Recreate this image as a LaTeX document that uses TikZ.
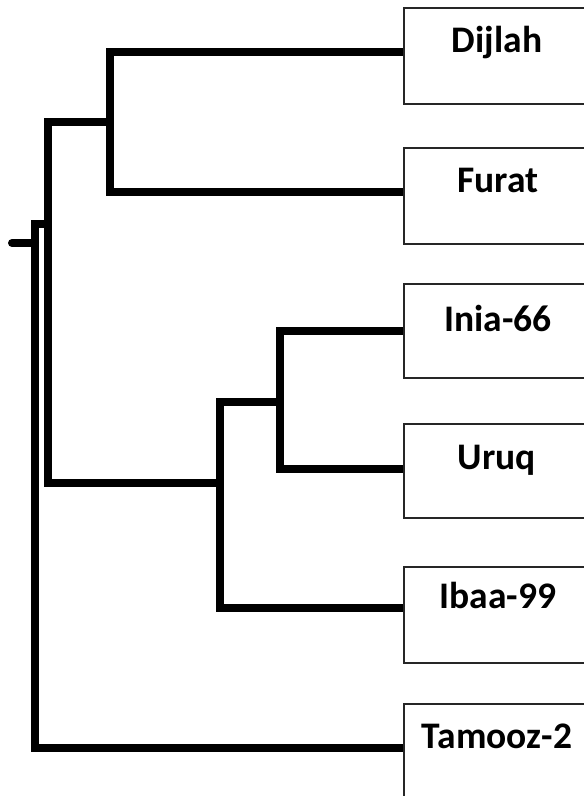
\documentclass[tikz,border=0pt]{standalone}
\usepackage{fontspec}
\setmainfont{Carlito}
\begin{document}
\begin{tikzpicture}[x=1pt,y=-1pt,
  branch/.style={line width=8pt, line join=miter, line cap=butt, black},
  leafbox/.style={draw=black!85, line width=1.8pt, minimum width=190pt, minimum height=96pt, inner sep=0pt, anchor=north west},
  leaflabel/.style={font=\fontsize{37.5}{42}\bfseries\selectfont, anchor=base, inner sep=0pt}]
\useasboundingbox (0,0) rectangle (584,796);
\clip (0,0) rectangle (584,796);
\fill[white] (0,0) rectangle (584,796);
% boxes
\node[leafbox] (b1) at (403,7) {};
\node[leafbox] (b2) at (403,147) {};
\node[leafbox, minimum height=94pt] (b3) at (403,283) {};
\node[leafbox, minimum height=94pt] (b4) at (403,423) {};
\node[leafbox] (b5) at (403,566) {};
\node[leafbox, minimum height=110pt] (b6) at (403,703) {};
% labels
\node[leaflabel] (t1) at (497,52) {Dijlah};
\node[leaflabel] (t2) at (498,192) {Furat};
\node[leaflabel] (t3) at (498,331) {Inia-66};
\node[leaflabel] (t4) at (497,469) {Uruq};
\node[leaflabel] (t5) at (498,608) {Ibaa-99};
\node[leaflabel] (t6) at (497,748) {Tamooz-2};
% tree coordinates
\coordinate (l1) at (403,52);
\coordinate (l2) at (403,192);
\coordinate (l3) at (403,331);
\coordinate (l4) at (403,469);
\coordinate (l5) at (403,608);
\coordinate (l6) at (403,748);
\coordinate (n1) at (110,122);
\coordinate (n2) at (280,402);
\coordinate (n3) at (220,483);
\coordinate (n4) at (48,224);
\coordinate (n5) at (35,243);
\coordinate (root) at (12,243);
% branches
\draw[branch] (b1.west |- l1) -| (n1) |- (b2.west |- l2);
\draw[branch] (n1) -- (48,122) |- (n3);
\draw[branch] (b3.west |- l3) -| (n2) |- (b4.west |- l4);
\draw[branch] (n2) -- (220,402) |- (b5.west |- l5);
\draw[branch] (n4) -- (35,224) |- (b6.west |- l6);
\draw[branch, line cap=round] (root) -- (n5);
\end{tikzpicture}
\end{document}
